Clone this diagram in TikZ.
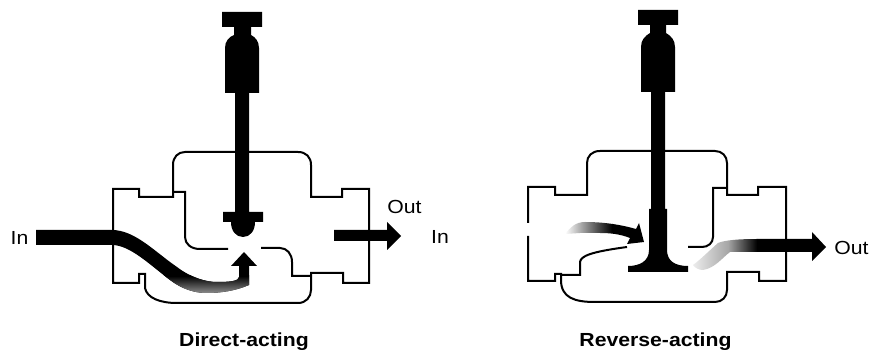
\documentclass[tikz,border=0pt]{standalone}
\usepackage{fontspec}
\newfontfamily\lab[FakeStretch=1.12]{Liberation Sans}
\newfontfamily\labb[FakeStretch=1.12]{Liberation Sans Bold}
\tikzset{
  wall/.style={draw=black,line width=1.5pt,line join=miter,fill=none},
  solid part/.style={fill=black,draw=none},
  plain label/.style={font=\lab\fontsize{14.2}{16}\selectfont,text=black,inner sep=0pt},
  title label/.style={font=\labb\fontsize{14.2}{16}\selectfont,text=black,inner sep=0pt}
}
\begin{document}
\begin{tikzpicture}[x=0.75pt,y=-0.75pt]
\useasboundingbox (0,0) rectangle (871,352);
\fill[white] (0,0) rectangle (871,352);
% ---------- Direct-acting ----------
% stream body
\begin{scope}
\clip (36,230) -- (112,230) .. controls (135,230) and (155,252) .. (177,267)
  .. controls (190,277) and (205,282) .. (217,282)
  .. controls (230,282) and (239,281) .. (239,277) -- (239,266) -- (249,266) -- (249,285)
  .. controls (235,291) and (220,293) .. (207,293)
  .. controls (190,293) and (178,286) .. (170,280)
  .. controls (150,265) and (130,245) .. (112,245) -- (36,245) -- cycle;
\fill[black] (30,225) rectangle (255,300);
\shade[top color=black,bottom color=black!42] (150,276) rectangle (255,294);
\end{scope}
\fill[solid part] (231,266) -- (244,252) -- (257,266) -- cycle;
% out arrow
\fill[solid part] (334,230) -- (387,230) -- (387,222) -- (401,236) -- (387,250) -- (387,241) -- (334,241) -- cycle;
% body
\draw[wall] (173,197) -- (139,197) -- (139,189) -- (113,189) -- (113,283) -- (139,283) -- (139,274) -- (145,274) -- (145,288)
  .. controls (147,298) and (160,303) .. (177,303) -- (298,303)
  .. controls (306,303) and (311,297) .. (311,290) -- (311,273) -- (343,273) -- (343,283) -- (369,283) -- (369,189) -- (342,189) -- (342,197) -- (311,197) -- (311,165)
  .. controls (311,157) and (306,152) .. (298,152) -- (185,152)
  .. controls (178,152) and (173,157) .. (173,165) -- cycle;
\draw[wall] (173,192) -- (185,192) -- (185,237) .. controls (185,244) and (191,249) .. (200,249) -- (228,249);
\draw[wall] (261,248) -- (280,248) .. controls (287,248) and (292,254) .. (292,262) -- (292,276) -- (311,276);
% stem
\fill[solid part] (235,93) -- (225,93) -- (225,48) .. controls (225,41) and (229,37) .. (234,35) -- (234,27) -- (222,27) -- (222,12) -- (262,12) -- (262,27) -- (251,27) -- (251,35)
  .. controls (255,37) and (259,41) .. (259,48) -- (259,93) -- (249,93) -- (249,212) -- (263,212) -- (263,222) -- (255,222)
  .. controls (255,231) and (250,237) .. (243,237) .. controls (236,237) and (231,231) .. (231,222) -- (223,222) -- (223,212) -- (235,212) -- cycle;
\node[plain label,anchor=center] (inA) at (19.5,238) {In};
\node[plain label,anchor=center] (outA) at (404.5,207) {Out};
\node[title label,anchor=center] (titleA) at (244,342) {Direct-acting};
% ---------- Reverse-acting ----------
\begin{scope}
\clip (565,234) .. controls (570,228) and (575,222) .. (585,222)
  .. controls (605,222) and (622,225) .. (636,229) -- (639,223) -- (644,242) -- (627,244) -- (630,238)
  .. controls (620,234) and (610,233) .. (600,233) -- (580,233) -- cycle;
\shade[left color=white,right color=black] (565,215) rectangle (612,250);
\fill[black] (612,215) rectangle (650,250);
\end{scope}
\begin{scope}
\clip (718,243) .. controls (725,240) and (740,239) .. (757,239) -- (812,239) -- (812,232) -- (826,247) -- (812,261) -- (812,252) -- (730,252)
  .. controls (722,258) and (715,268) .. (703,270) .. controls (699,270) and (695,268) .. (693,265)
  .. controls (700,260) and (710,250) .. (718,243) -- cycle;
\shade[left color=black!5,right color=black!35] (690,235) rectangle (728,275);
\shade[left color=black!35,right color=black] (728,235) rectangle (757,275);
\fill[black] (757,225) rectangle (830,265);
\end{scope}
% body
\draw[wall] (528,223) -- (528,187) -- (555,187) -- (555,195) -- (587,195) -- (587,163)
  .. controls (587,156) and (592,151) .. (600,151) -- (715,151)
  .. controls (722,151) and (727,156) .. (727,163) -- (727,195) -- (758,195) -- (758,187) -- (786,187) -- (786,281) -- (759,281) -- (759,272) -- (727,272) -- (727,290)
  .. controls (727,297) and (722,302) .. (715,302) -- (595,302)
  .. controls (575,302) and (561,298) .. (561,280) -- (561,274) -- (555,274) -- (555,281) -- (528,281) -- (528,236);
\draw[wall] (561,275) -- (580,275) -- (580,262) .. controls (581,256) and (590,252) .. (627,247);
\draw[wall] (688,247) -- (702,247) .. controls (708,247) and (713,243) .. (713,237) -- (713,188) -- (727,188);
% stem
\fill[solid part] (651,92) -- (641,92) -- (641,47) .. controls (641,40) and (645,36) .. (650,33) -- (650,25) -- (638,25) -- (638,10) -- (678,10) -- (678,25) -- (666,25) -- (666,33)
  .. controls (671,36) and (675,40) .. (675,47) -- (675,92) -- (665,92) -- (665,209) -- (667,209) -- (667,250)
  .. controls (667,261) and (675,266) .. (688,266) -- (688,272) -- (628,272) -- (628,266)
  .. controls (640,266) and (649,261) .. (649,250) -- (649,209) -- (651,209) -- cycle;
\node[plain label,anchor=center] (inB) at (440,237) {In};
\node[plain label,anchor=center] (outB) at (851.5,248) {Out};
\node[title label,anchor=center] (titleB) at (655.5,342) {Reverse-acting};
\end{tikzpicture}
\end{document}
